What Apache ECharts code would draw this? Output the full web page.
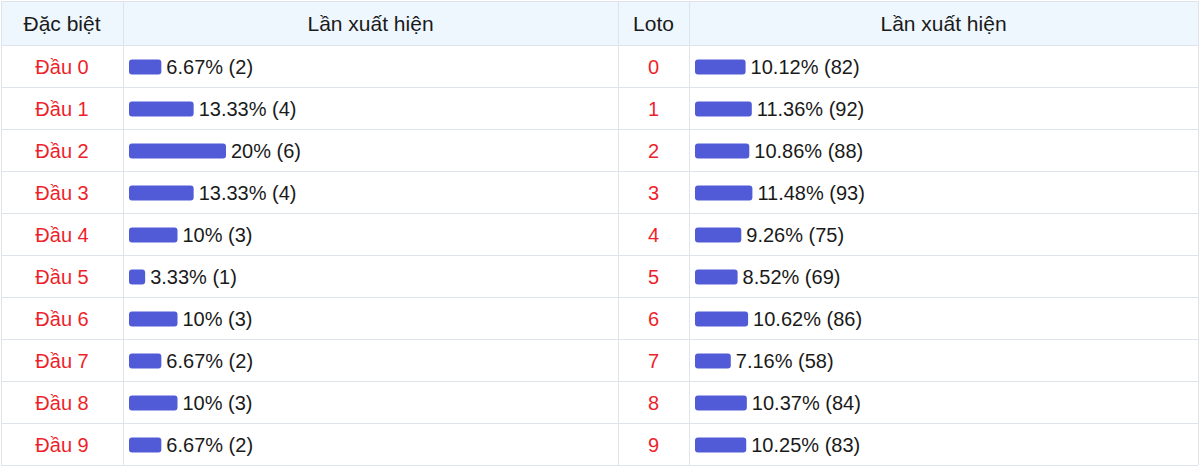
<!DOCTYPE html>
<html>
<head>
<meta charset="utf-8">
<script src="https://cdn.jsdelivr.net/npm/echarts@6/dist/echarts.min.js"></script>
<style>
html,body{margin:0;padding:0;background:#fff;}
#chart{width:1200px;height:466px;}
</style>
</head>
<body>
<div id="chart"></div>
<script>
// Data
var headers = ['Đặc biệt', 'Lần xuất hiện', 'Loto', 'Lần xuất hiện'];
var dbCategories = ['Đầu 0','Đầu 1','Đầu 2','Đầu 3','Đầu 4','Đầu 5','Đầu 6','Đầu 7','Đầu 8','Đầu 9'];
var dbPercent = [6.67, 13.33, 20, 13.33, 10, 3.33, 10, 6.67, 10, 6.67];
var dbCount = [2, 4, 6, 4, 3, 1, 3, 2, 3, 2];
var lotoCategories = ['0','1','2','3','4','5','6','7','8','9'];
var lotoPercent = [10.12, 11.36, 10.86, 11.48, 9.26, 8.52, 10.62, 7.16, 10.37, 10.25];
var lotoCount = [82, 92, 88, 93, 75, 69, 86, 58, 84, 83];

// Layout
var FONT = '"Liberation Sans", Arial, sans-serif';
var TOP = 45, ROW_H = 42, ROWS = 10, HEAD_TOP = 1;
var COLS = [1, 123, 618, 689, 1198];
var BORDER = '#dfe4ea';
var RED = '#ee1f2a';
var TEXT = '#1a1a1a';
var BAR = '#515bd8';

var chart = echarts.init(document.getElementById('chart'), null, {renderer: 'svg'});

var graphics = [];
graphics.push({type:'rect', shape:{x:COLS[0], y:HEAD_TOP, width:COLS[4]-COLS[0], height:TOP-HEAD_TOP}, style:{fill:'#eef6fe'}, z:-10});
// horizontal lines
for (var i = 0; i <= ROWS + 1; i++) {
  var y = i === 0 ? HEAD_TOP : TOP + (i - 1) * ROW_H;
  graphics.push({type:'line', shape:{x1:COLS[0], y1:y+0.5, x2:COLS[4], y2:y+0.5}, style:{stroke:BORDER, lineWidth:1}, z:-5});
}
// vertical lines
COLS.forEach(function(x){
  graphics.push({type:'line', shape:{x1:x+0.5, y1:HEAD_TOP, x2:x+0.5, y2:TOP+ROWS*ROW_H}, style:{stroke:BORDER, lineWidth:1}, z:-5});
});
// header texts
headers.forEach(function(h, k){
  graphics.push({type:'text', x:(COLS[k]+COLS[k+1])/2, y:(HEAD_TOP+TOP)/2,
    style:{text:h, fill:TEXT, font:'21px ' + FONT, textAlign:'center', textVerticalAlign:'middle'}});
});

function makeLabel(pcts, counts){
  return function(p){ return pcts[p.dataIndex] + '% (' + counts[p.dataIndex] + ')'; };
}

var option = {
  animation: false,
  graphic: graphics,
  grid: [
    {left:129, width:485, top:TOP+1, height:ROWS*ROW_H, containLabel:false},
    {left:695, width:500, top:TOP+1, height:ROWS*ROW_H, containLabel:false}
  ],
  xAxis: [
    {gridIndex:0, type:'value', min:0, max:100, show:false},
    {gridIndex:1, type:'value', min:0, max:100, show:false}
  ],
  yAxis: [
    {gridIndex:0, type:'category', data:dbCategories, inverse:true,
     axisLine:{show:false}, axisTick:{show:false}, splitLine:{show:false},
     axisLabel:{color:RED, fontSize:20, fontFamily:FONT, align:'center', margin:(129-(COLS[0]+COLS[1])/2)}},
    {gridIndex:1, type:'category', data:lotoCategories, inverse:true,
     axisLine:{show:false}, axisTick:{show:false}, splitLine:{show:false},
     axisLabel:{color:RED, fontSize:20, fontFamily:FONT, align:'center', margin:(695-(COLS[2]+COLS[3])/2)}}
  ],
  series: [
    {type:'bar', xAxisIndex:0, yAxisIndex:0, data:dbPercent, barWidth:15,
     itemStyle:{color:BAR, borderRadius:3},
     label:{show:true, position:'right', distance:5, color:TEXT, fontSize:20, fontFamily:FONT,
            formatter:makeLabel(dbPercent, dbCount)}},
    {type:'bar', xAxisIndex:1, yAxisIndex:1, data:lotoPercent, barWidth:15,
     itemStyle:{color:BAR, borderRadius:3},
     label:{show:true, position:'right', distance:5, color:TEXT, fontSize:20, fontFamily:FONT,
            formatter:makeLabel(lotoPercent, lotoCount)}}
  ]
};
chart.setOption(option);
</script>
</body>
</html>
